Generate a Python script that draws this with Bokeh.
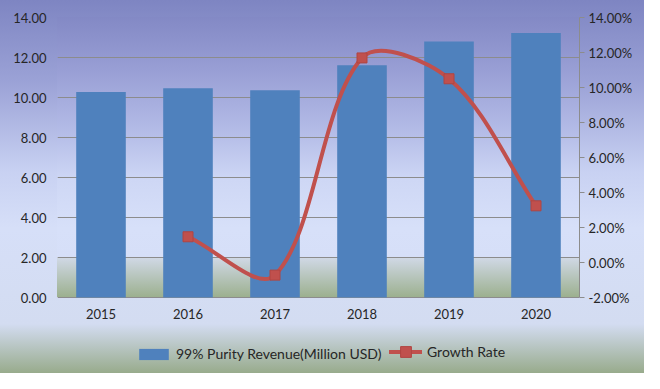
import numpy as np
from bokeh.plotting import figure
from bokeh.models import (Range1d, LinearAxis, FixedTicker, NumeralTickFormatter,
                          Legend, LegendItem, ColumnDataSource)
from bokeh.core.properties import value
from bokeh.embed import file_html
from bokeh.resources import INLINE

# ---------------- data ----------------
years = ["2015", "2016", "2017", "2018", "2019", "2020"]
revenue = [10.27, 10.46, 10.36, 11.61, 12.80, 13.23]          # Million USD
growth_years = ["2016", "2017", "2018", "2019", "2020"]
growth = [0.0147, -0.0072, 0.1169, 0.1050, 0.0324]            # fraction
left_ticks = [0, 2, 4, 6, 8, 10, 12, 14]
right_ticks = [-0.02, 0.0, 0.02, 0.04, 0.06, 0.08, 0.10, 0.12, 0.14]

# ---------------- layout ----------------
W, H = 644, 373
ML, MR, MT = 57, 65, 17
PLOT_H = 280                  # height of the value area
FW = W - ML - MR
FH = H - MT                   # frame reaches the bottom (room for labels + legend)
EXTRA = FH - PLOT_H
FONT = "Lato"
TXT = "#262626"
GRID = "#8C8C8C"
BAR = "#4F81BD"
RED = "#C0504D"

l0, l1 = left_ticks[0], left_ticks[-1]
r0, r1 = right_ticks[0], right_ticks[-1]
p = figure(width=W, height=H, x_range=Range1d(0, len(years)),
           y_range=Range1d(l0 - (l1 - l0) * EXTRA / PLOT_H, l1),
           output_backend="svg", toolbar_location=None,
           x_axis_location=None,
           min_border_left=ML, min_border_right=MR,
           min_border_top=MT, min_border_bottom=0)
p.extra_y_ranges = {"growth": Range1d(r0 - (r1 - r0) * EXTRA / PLOT_H, r1)}
p.outline_line_color = None
p.border_fill_alpha = 0
p.background_fill_alpha = 0

outer = ("linear-gradient(180deg, #7E85C2 0px, #9CA3D7 84px, #C8D1F2 171px, "
         "#D6DFF8 228px, #D3DCF1 324px, #98AB8C 373px)")
inner = ("linear-gradient(180deg, #8389C5 0px, #999FD5 54px, #B4BCE7 115px, "
         "#CED7F5 163px, #D7E0F9 211px, #D6DFF8 240px, #D1D9E7 240px, #9CB08F 280px)")
p.styles = {"background": f"{inner} {ML}px {MT}px / {FW}px {PLOT_H}px no-repeat, {outer}"}

# ---------------- bars ----------------
xc = [i + 0.5 for i in range(len(years))]
src = ColumnDataSource(dict(x=xc, top=revenue))
bars = p.vbar(x="x", top="top", width=0.57, bottom=0, source=src,
              fill_color=BAR, line_color=None)

# ---------------- smoothed growth line (Excel-like bezier) ----------------
gx = np.array([years.index(y) + 0.5 for y in growth_years])
gy = np.array(growth)
sx = FW / (p.x_range.end - p.x_range.start)
sy = PLOT_H / (r1 - r0)
P = np.column_stack([gx * sx, gy * sy])
n = len(P)
seg = dict(x0=[], y0=[], x1=[], y1=[], cx0=[], cy0=[], cx1=[], cy1=[])
for i in range(n - 1):
    p0, p1, p2, p3 = P[max(i - 1, 0)], P[i], P[i + 1], P[min(i + 2, n - 1)]
    d01, d12, d23 = (np.linalg.norm(p1 - p0), np.linalg.norm(p2 - p1),
                     np.linalg.norm(p3 - p2))
    c1 = p1 + (p2 - p0) * (d12 / (d01 + d12)) / 3
    c2 = p2 - (p3 - p1) * (d12 / (d12 + d23)) / 3
    seg["x0"].append(p1[0] / sx); seg["y0"].append(p1[1] / sy)
    seg["x1"].append(p2[0] / sx); seg["y1"].append(p2[1] / sy)
    seg["cx0"].append(c1[0] / sx); seg["cy0"].append(c1[1] / sy)
    seg["cx1"].append(c2[0] / sx); seg["cy1"].append(c2[1] / sy)
curve = p.bezier(source=ColumnDataSource(seg), x0="x0", y0="y0", x1="x1", y1="y1",
                 cx0="cx0", cy0="cy0", cx1="cx1", cy1="cy1",
                 line_color=RED, line_width=4, line_cap="round",
                 y_range_name="growth")
marks = p.scatter(x=gx, y=gy, marker="square", size=10, fill_color=RED,
                  line_color="#B04542", line_width=1, y_range_name="growth")

# ---------------- category labels under the value area ----------------
p.text(x=xc, y=[l0] * len(years), text=years, y_offset=11,
       text_align="center", text_baseline="top", text_font=value(FONT),
       text_font_size="13px", text_color=TXT)

# ---------------- axes ----------------
p.yaxis.ticker = FixedTicker(ticks=left_ticks)
p.yaxis.bounds = (l0, l1)
p.yaxis.formatter = NumeralTickFormatter(format="0.00")
p.yaxis.axis_line_color = None
p.yaxis.major_tick_line_color = None
p.yaxis.major_tick_out = 0
p.yaxis.minor_tick_line_color = None
p.yaxis.major_label_standoff = 11

ax_r = LinearAxis(y_range_name="growth", ticker=FixedTicker(ticks=right_ticks),
                  formatter=NumeralTickFormatter(format="0.00%"), bounds=(r0, r1))
ax_r.axis_line_color = GRID
ax_r.major_tick_line_color = GRID
ax_r.major_tick_out = 5
ax_r.major_tick_in = 0
ax_r.minor_tick_line_color = None
ax_r.major_label_standoff = 4
p.add_layout(ax_r, "right")

for ax in [p.yaxis[0], ax_r]:
    ax.major_label_text_font = FONT
    ax.major_label_text_font_size = "13px"
    ax.major_label_text_color = TXT

p.xgrid.grid_line_color = None
p.ygrid.ticker = FixedTicker(ticks=left_ticks)
p.ygrid.grid_line_color = GRID
p.ygrid.grid_line_width = 1

# ---------------- legends ----------------
common = dict(orientation="horizontal", padding=0, margin=0, border_line_color=None,
              background_fill_alpha=0, label_text_font=FONT,
              label_text_font_size="14px", label_text_color=TXT)
leg1 = Legend(items=[LegendItem(label="99% Purity Revenue(Million USD)", renderers=[bars])],
              location=(78, 11), glyph_width=37, glyph_height=14, label_standoff=4, **common)
leg2 = Legend(items=[LegendItem(label="Growth Rate", renderers=[curve, marks])],
              location=(332, 8), glyph_width=33, glyph_height=27, label_standoff=5, **common)
p.add_layout(leg1)
p.add_layout(leg2)

open("out.html", "w").write(file_html(p, INLINE))
